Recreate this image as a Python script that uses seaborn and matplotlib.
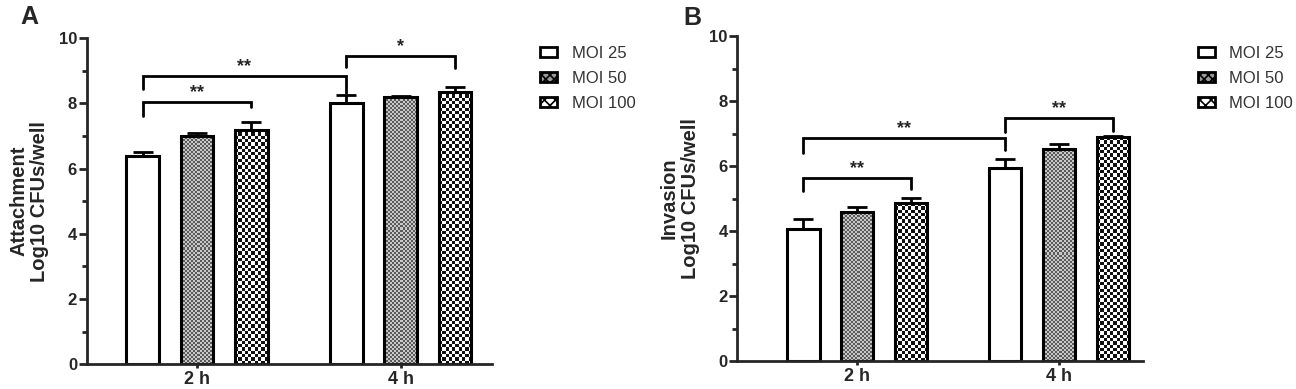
import pandas as pd
import numpy as np
import seaborn as sns
import matplotlib.pyplot as plt
from matplotlib.patches import Patch
from matplotlib.colors import ListedColormap
from matplotlib.ticker import MultipleLocator

# 数据
times = ['2 h', '4 h']
mois = ['MOI 25', 'MOI 50', 'MOI 100']

attach_mean = [[6.39, 7.00, 7.18], [8.02, 8.18, 8.35]]
attach_err = [[0.13, 0.10, 0.25], [0.23, 0.03, 0.15]]
invas_mean = [[4.05, 4.60, 4.86], [5.94, 6.54, 6.89]]
invas_err = [[0.32, 0.13, 0.16], [0.27, 0.14, 0.04]]

# 显著性标记: (起点(时间,MOI), 终点, 横线高度, 左端, 右端, 文本)
attach_sig = [((0, 0), (0, 2), 8.05, 7.6, 7.9, '**'),
              ((0, 0), (1, 0), 8.85, 8.43, 8.33, '**'),
              ((1, 0), (1, 2), 9.46, 9.12, 9.08, '*')]
invas_sig = [((0, 0), (0, 2), 5.64, 5.23, 5.31, '**'),
             ((0, 0), (1, 0), 6.85, 6.41, 6.5, '**'),
             ((1, 0), (1, 2), 7.49, 7.06, 7.08, '**')]

# 棋盘纹理: (格子像素, 颜色1, 颜色2), MOI 25 为空白
textures = [None, (2.0, '#5a5a5a', '#c8c8c8'), (3.3, '#111111', '#ffffff')]

sns.set_style('ticks')
plt.rcParams['font.family'] = ['Liberation Sans', 'DejaVu Sans']
plt.rcParams['hatch.linewidth'] = 1.2


def fill_checker(ax, bar, cell, c1, c2):
    x0, y0 = bar.get_x(), bar.get_y()
    w, h = bar.get_width(), bar.get_height()
    (px0, py0), (px1, py1) = ax.transData.transform([(x0, y0), (x0 + w, y0 + h)])
    nx = max(1, int(round((px1 - px0) / cell)))
    ny = max(1, int(round((py1 - py0) / cell)))
    grid = np.add.outer(np.arange(ny), np.arange(nx)) % 2
    im = ax.imshow(grid, extent=(x0, x0 + w, y0, y0 + h), origin='lower',
                   cmap=ListedColormap([c1, c2]), interpolation='nearest',
                   aspect='auto', zorder=1.9)
    im.set_clip_path(bar)


def draw_panel(ax, mean, err, sig, ylabel, xlim):
    df = pd.DataFrame({
        'time': [t for t in times for m in mois],
        'moi': [m for t in times for m in mois],
        'value': [mean[i][j] for i in range(len(times)) for j in range(len(mois))],
    })
    sns.barplot(data=df, x='time', y='value', hue='moi', hue_order=mois,
                palette=['white'] * 3, edgecolor='black', linewidth=2.2,
                gap=0.4, legend=False, ax=ax, zorder=2)
    ax.set_ylim(0, 10)
    ax.set_xlim(*xlim)
    bar_conts = list(ax.containers)
    centers = {}
    for j, cont in enumerate(bar_conts):
        for i, bar in enumerate(cont):
            x = bar.get_x() + bar.get_width() / 2
            centers[(i, j)] = x
            if textures[j] is not None:
                bar.set_facecolor('none')
                fill_checker(ax, bar, *textures[j])
            ax.errorbar(x, bar.get_height(), yerr=[[0], [err[i][j]]],
                        fmt='none', ecolor='black', elinewidth=2,
                        capsize=7, capthick=2, zorder=1)
    for a, b, y, yl, yr, lab in sig:
        x1, x2 = centers[a], centers[b]
        ax.plot([x1, x1, x2, x2], [yl, y, y, yr], color='black', lw=2,
                solid_joinstyle='miter', zorder=3)
        ax.text((x1 + x2) / 2, y + 0.03, lab, ha='center', va='bottom',
                fontsize=13, fontweight='bold')
    ax.set_ylim(0, 10)
    ax.set_xlim(*xlim)
    ax.yaxis.set_major_locator(MultipleLocator(2))
    ax.yaxis.set_minor_locator(MultipleLocator(1))
    ax.set_xlabel('')
    ax.set_ylabel(ylabel, fontsize=14.5, fontweight='bold', linespacing=1.1,
                  labelpad=7)
    for s in ['left', 'bottom']:
        ax.spines[s].set_linewidth(2)
    sns.despine(ax=ax)
    ax.tick_params(axis='y', which='major', width=2, length=6, labelsize=12, pad=1)
    ax.tick_params(axis='y', which='minor', width=2, length=3.5)
    ax.tick_params(axis='x', which='major', width=2, length=3, labelsize=13, pad=2)
    for lbl in ax.get_xticklabels() + ax.get_yticklabels():
        lbl.set_fontweight('bold')


fig = plt.figure(figsize=(12.96, 3.89), dpi=100)
ax1 = fig.add_axes([0.067, 0.064, 0.313, 0.838])
ax2 = fig.add_axes([0.569, 0.072, 0.313, 0.835])

draw_panel(ax1, attach_mean, attach_err, attach_sig,
           'Attachment\nLog10 CFUs/well', (-0.54, 1.45))
draw_panel(ax2, invas_mean, invas_err, invas_sig,
           'Invasion\nLog10 CFUs/well', (-0.594, 1.416))

handles = [Patch(facecolor='white', edgecolor='black', linewidth=2),
           Patch(facecolor='#999999', edgecolor='black', linewidth=2, hatch='xxxx'),
           Patch(facecolor='white', edgecolor='black', linewidth=2, hatch='xxx')]
for xa in [0.4115, 0.919]:
    fig.legend(handles, mois, loc='upper left', bbox_to_anchor=(xa, 0.90),
               frameon=False, fontsize=12, handlelength=1.05, handleheight=0.55,
               labelspacing=0.62, handletextpad=0.85, borderaxespad=0,
               labelcolor='#333333')

fig.text(0.0155, 0.988, 'A', fontsize=18, fontweight='bold', va='top')
fig.text(0.527, 0.984, 'B', fontsize=18, fontweight='bold', va='top')

plt.savefig('out.png', dpi=100)
